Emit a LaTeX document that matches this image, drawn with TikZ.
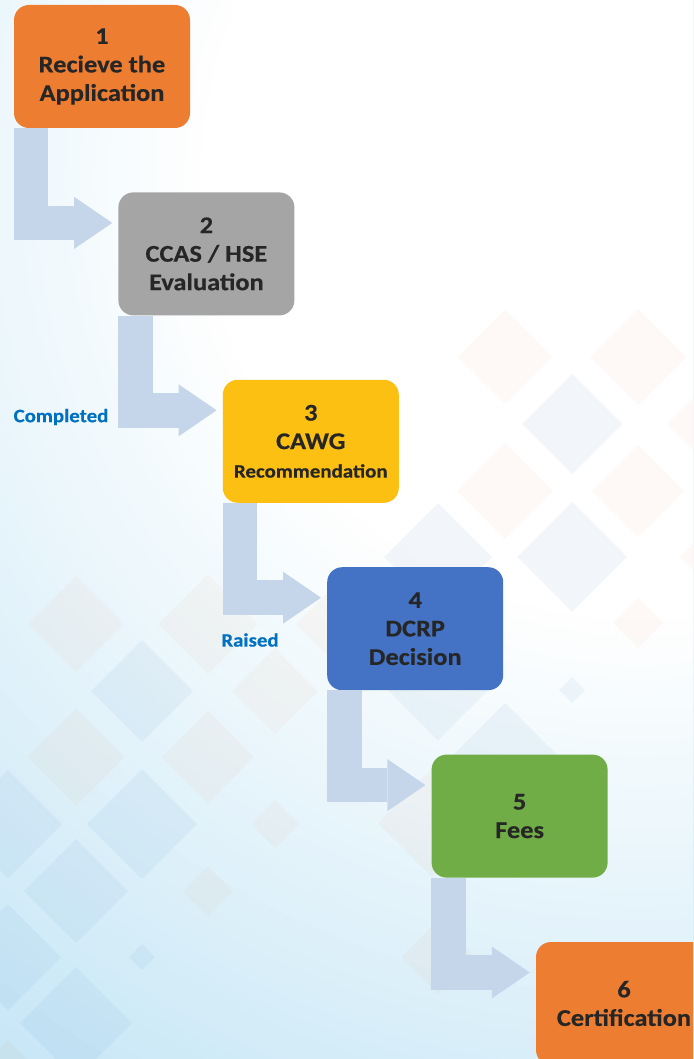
\documentclass[tikz,border=0pt]{standalone}
\usepackage{fontspec}
\setmainfont{Carlito}[FakeStretch=1.1,FakeBold=0.4]
\usetikzlibrary{arrows.meta,positioning}
\definecolor{orangebox}{HTML}{ED7D31}
\definecolor{graybox}{HTML}{A5A5A5}
\definecolor{yellowbox}{HTML}{FCC012}
\definecolor{bluebox}{HTML}{4472C4}
\definecolor{greenbox}{HTML}{70AD47}
\definecolor{flowblue}{HTML}{C5D6EB}
\definecolor{inkdark}{HTML}{262626}
\definecolor{noteblue}{HTML}{0070C0}
\definecolor{skyblue}{HTML}{2E75B6}
\definecolor{bgdeep}{HTML}{C6E6F6}
\tikzset{
  stepbox/.style={rounded corners=15pt,minimum width=176pt,minimum height=123pt,
    inner sep=0pt,align=center,text=inkdark,font=\bfseries\fontsize{24}{28.5}\selectfont},
  flow/.style={draw=flowblue,line width=34.5pt,
    -{Triangle[length=38pt,width=52pt,line width=0pt]}},
  note/.style={text=noteblue,font=\bfseries\fontsize{19}{22}\selectfont},
  sandtint/.style={fill=orangebox,fill opacity=0.045},
  skytint/.style={fill=skyblue,fill opacity=0.06},
}

\begin{document}
\begin{tikzpicture}[x=1pt,y=-1pt,node distance=64pt and -72pt]
  \useasboundingbox (0,0) rectangle (693,1059);
  \clip (0,0) rectangle (693,1059);
  % backdrop
  \fill[white] (0,0) rectangle (693,1059);
  \foreach \r in {1100,1085,...,440} {
    \pgfmathsetmacro\mixval{(\r-440)/6.6}
    \fill[bgdeep!\mixval!white] (640,180) circle[radius=\r pt];
  }
  \foreach \cx/\cy/\h in {505/357/47,638/357/48,505/491/48,638/491/46,638/623/25,
      715/424/48,725/557/45,432/823/54,438/957/37,
      76/624/48,208/624/50,275/691/43,76/757/49,208/757/46,275/824/24,
      208/891/25,341/624/45,8/1090/50}
    \fill[sandtint] (\cx,\cy) +(-\h,0) -- +(0,-\h) -- +(\h,0) -- +(0,\h) -- cycle;
  \foreach \cx/\cy/\h in {572/424/50,572/557/55,438/557/54,438/690/50,505/755/52,572/690/13,
      142/691/51,8/824/54,142/824/55,76/891/52,8/957/53,142/957/13,76/1023/56}
    \fill[skytint] (\cx,\cy) +(-\h,0) -- +(0,-\h) -- +(\h,0) -- +(0,\h) -- cycle;

  % steps
  \node[stepbox,fill=orangebox] (s1) at (102,66.5) {1\\Recieve the\\Application};
  \node[stepbox,fill=graybox,below right=of s1] (s2) {2\\CCAS / HSE\\Evaluation};
  \node[stepbox,fill=yellowbox,below right=of s2] (s3)
    {3\\CAWG\\{\fontsize{19}{24}\selectfont Recommendation}};
  \node[stepbox,fill=bluebox,below right=of s3] (s4) {4\\DCRP\\Decision};
  \node[stepbox,fill=greenbox,below right=of s4] (s5) {5\\Fees};
  \node[stepbox,fill=orangebox,below right=of s5] (s6) {6\\Certification};

  % links
  \draw[flow] ([xshift=17.25pt]s1.south west) |- ([xshift=-6pt,yshift=31pt]s2.west);
  \draw[flow] ([xshift=17.25pt]s2.south west) |- ([xshift=-6pt,yshift=31pt]s3.west);
  \draw[flow] ([xshift=17.25pt]s3.south west) |- ([xshift=-6pt,yshift=31pt]s4.west);
  \draw[flow] ([xshift=17.25pt]s4.south west) |- ([xshift=-6pt,yshift=31pt]s5.west);
  \draw[flow] ([xshift=17.25pt]s5.south west) |- ([xshift=-6pt,yshift=31pt]s6.west);

  \node[note] (done) at (61,417) {Completed};
  \node[note] (raised) at (250,640) {Raised};
\end{tikzpicture}
\end{document}
